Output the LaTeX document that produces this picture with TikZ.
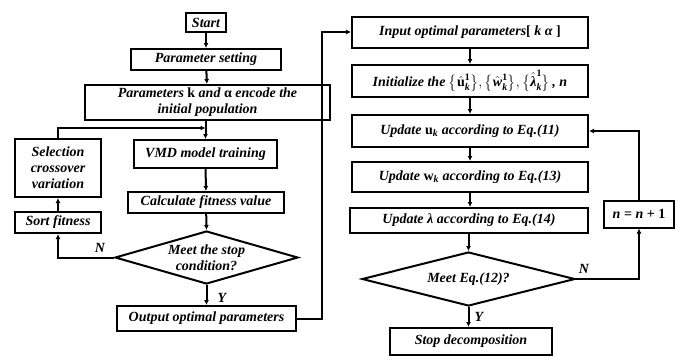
\documentclass[tikz,border=0pt]{standalone}
\usepackage{amsmath,amssymb}
\usepackage{fontspec}
\setmainfont{Liberation Serif}
\usetikzlibrary{arrows.meta,shapes.geometric}
\newcommand{\uprm}[1]{{\upshape #1}}
\newcommand{\tm}[1]{\text{#1}}
\begin{document}
\begin{tikzpicture}[x=1pt,y=-1pt,
  lw/.style={line width=2pt},
  fnt/.style={font=\bfseries\itshape\fontsize{14}{16}\selectfont},
  box/.style={draw,lw,inner sep=0pt,align=center,fnt},
  dia/.style={draw,lw,diamond,inner sep=0pt,aspect=3.4},
  txt/.style={inner sep=0pt,align=center,fnt},
  lab/.style={inner sep=0pt,fnt},
  arr/.style={lw,-{Latex[length=5pt,width=5pt]}}]
\useasboundingbox[fill=white] (0,0) rectangle (685,360);
% left column
\node[box,minimum width=40pt,minimum height=19pt] (start) at (206,22.5) {Start};
\node[box,minimum width=150pt,minimum height=21pt] (ps) at (206,59.5) {Parameter setting};
\node[box,minimum width=245pt,minimum height=35pt] (pk) at (207.5,102.5) {Parameters \uprm{k} and \uprm{α} encode the\\initial population};
\node[box,minimum width=143pt,minimum height=28pt] (vmd) at (205.5,154) {VMD model training};
\node[box,minimum width=86pt,minimum height=58pt] (sel) at (58,168) {Selection\\crossover\\variation};
\node[box,minimum width=86pt,minimum height=21pt] (sort) at (58,222.5) {Sort fitness};
\node[box,minimum width=156pt,minimum height=21pt] (calc) at (206,202.5) {Calculate fitness value};
\node[dia,minimum width=183pt,minimum height=53pt] (d1) at (206.5,257.5) {};
\node[txt] (d1t) at (d1) {Meet the stop\\condition?};
\node[box,minimum width=179pt,minimum height=25pt] (out) at (206.5,318.5) {Output optimal parameters};
% right column
\node[box,minimum width=236pt,minimum height=31pt] (inp) at (470,32.5) {Input optimal parameters\uprm{[} k α \uprm{]}};
\node[box,minimum width=236pt,minimum height=32pt] (init) at (470,81) {Initialize the $\bigl\{\hat{\tm{\uprm{u}}}_{\tm{k}}^{\tm{\uprm{1}}}\bigr\},\bigl\{\hat{\tm{w}}_{\tm{k}}^{\tm{\uprm{1}}}\bigr\},\bigl\{\hat{\tm{λ}}_{\tm{k}}^{\tm{\uprm{1}}}\bigr\}$\,, n};
\node[box,minimum width=236pt,minimum height=32pt] (upu) at (470,131) {Update $\tm{\uprm{u}}_{\tm{k}}$ according to Eq.(11)};
\node[box,minimum width=236pt,minimum height=30pt] (upw) at (470,177) {Update $\tm{\uprm{w}}_{\tm{k}}$ according to Eq.(13)};
\node[box,minimum width=238pt,minimum height=25pt] (upl) at (469,220.5) {Update λ according to Eq.(14)};
\node[dia,minimum width=213pt,minimum height=54pt] (d2) at (468.5,279) {};
\node[txt] (d2t) at (d2) {Meet Eq.(12)?};
\node[box,minimum width=162pt,minimum height=27pt] (stop) at (471,341.5) {Stop decomposition};
\node[box,minimum width=70pt,minimum height=27pt] (nn) at (639,214) {n \uprm{=} n \uprm{+ 1}};
% coordinates
\coordinate (j1) at (206,128);
\coordinate (c1) at (58,128);
\coordinate (c2) at (58,257.5);
\coordinate (r1) at (322,318.5);
\coordinate (r2) at (322,32);
\coordinate (n1) at (639,279);
\coordinate (n2) at (639,131);
% left connectors
\draw[arr] (start) -- (ps);
\draw[arr] (ps) -- (pk);
\draw[arr] (pk.south -| vmd.north) -- (vmd.north);
\draw[arr] (vmd) -- (calc);
\draw[arr] (calc) -- (d1.north);
\draw[arr] (d1.south) -- (out.north -| d1.south);
\draw[arr] (d1.west) -- (c2) -- (sort.south);
\draw[arr] (sort) -- (sel);
\draw[arr] (sel.north) -- (c1) -- (j1 -| vmd.north);
\draw[arr] (out.east) -- (r1) -- (r2) -- (inp.west |- r2);
% right connectors
\draw[arr] (inp) -- (init);
\draw[arr] (init) -- (upu);
\draw[arr] (upu) -- (upw);
\draw[arr] (upw) -- (upl.north -| upw.south);
\draw[arr] (upl.south -| d2.north) -- (d2.north);
\draw[arr] (d2.south) -- (stop.north -| d2.south);
\draw[arr] (d2.east) -- (n1) -- (nn.south);
\draw[arr] (nn.north) -- (n2) -- (upu.east);
% labels
\node[lab] (lN1) at (100,248) {N};
\node[lab] (lY1) at (222,298) {Y};
\node[lab] (lN2) at (584,269) {N};
\node[lab] (lY2) at (479,317) {Y};
\end{tikzpicture}
\end{document}
